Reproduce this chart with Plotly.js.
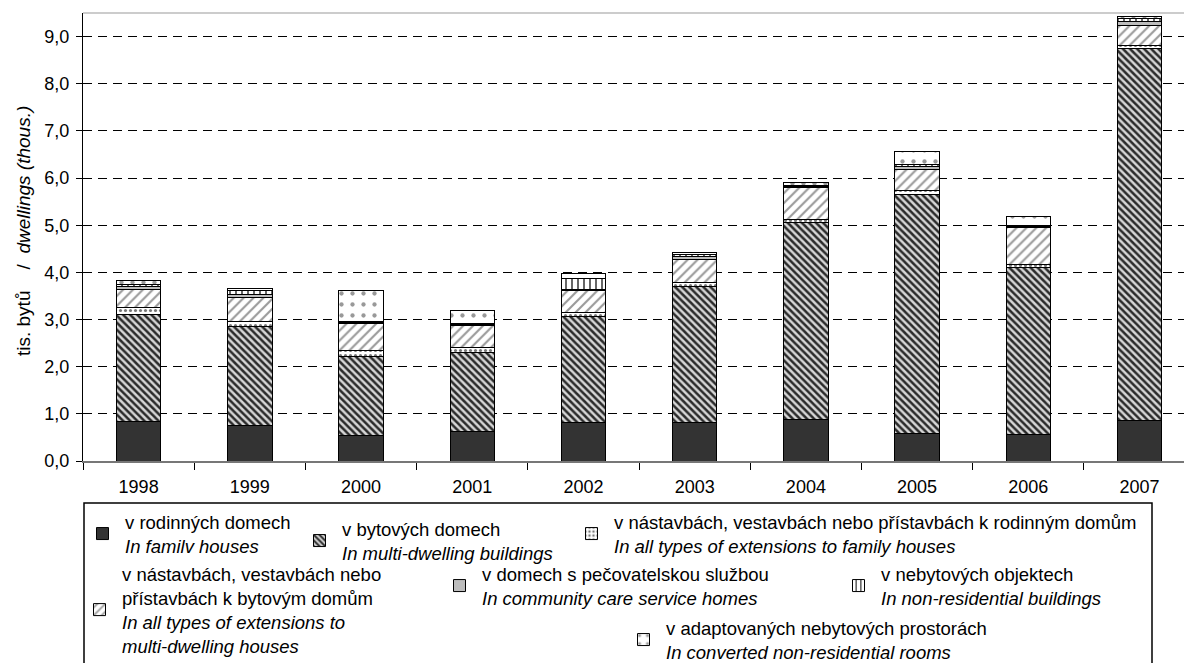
<!DOCTYPE html>
<html><head><meta charset="utf-8">
<script src="https://cdn.plot.ly/plotly-3.0.1.min.js"></script>
<style>html,body{margin:0;padding:0;overflow:hidden;background:#fff}</style>
</head><body>
<div id="chart" style="width:1184px;height:663px"></div>
<script>
// ---- data (thousands of dwellings) ----
const years = ['1998','1999','2000','2001','2002','2003','2004','2005','2006','2007'];
const familyHouses       = [0.83, 0.75, 0.54, 0.62, 0.81, 0.81, 0.89, 0.59, 0.57, 0.85];
const multiDwelling      = [2.28, 2.11, 1.68, 1.69, 2.25, 2.89, 4.17, 5.07, 3.54, 7.89];
const extFamilyHouses    = [0.14, 0.10, 0.12, 0.10, 0.08, 0.09, 0.07, 0.07, 0.06, 0.07];
const extMultiDwelling   = [0.39, 0.50, 0.57, 0.46, 0.47, 0.49, 0.67, 0.46, 0.78, 0.42];
const communityCare      = [0.05, 0.07, 0.02, 0.03, 0.035, 0.06, 0.02, 0.05, 0.03, 0.08];
const nonResidential     = [0.05, 0.08, 0.02, 0.02, 0.225, 0.03, 0.015, 0.04, 0.02, 0.07];
const convertedRooms     = [0.08, 0.04, 0.67, 0.27, 0.11, 0.05, 0.07, 0.28, 0.18, 0.05];
const yTicks = [0,1,2,3,4,5,6,7,8,9];
const yTitle = 'tis. bytů\u00a0\u00a0\u00a0\u00a0/\u00a0\u00a0<i>dwellings (thous.)</i>';

const seriesNames = [
  'v rodinných domech<br><i>In familv houses</i>',
  'v bytových domech<br><i>In multi-dwelling buildings</i>',
  'v nástavbách, vestavbách nebo přístavbách k rodinným domům<br><i>In all types of extensions to family houses</i>',
  'v nástavbách, vestavbách nebo<br>přístavbách k bytovým domům<br><i>In all types of extensions to</i><br><i>multi-dwelling houses</i>',
  'v domech s pečovatelskou službou<br><i>In community care service homes</i>',
  'v nebytových objektech<br><i>In non-residential buildings</i>',
  'v adaptovaných nebytových prostorách<br><i>In converted non-residential rooms</i>'
];

const FONT = 'Arial, "Liberation Sans", sans-serif';
const W = 1184, H = 663;
const outline = {color:'#000', width:1};

const markers = [
  {color:'#333333', line:outline},
  {color:'#d6d6d6', line:outline, pattern:{shape:'\\', fgcolor:'#2b2b2b', bgcolor:'#d6d6d6', size:5, solidity:0.5, fillmode:'replace'}},
  {color:'#ffffff', line:outline, pattern:{shape:'.', fgcolor:'#777', bgcolor:'#ffffff', size:5, solidity:0.3, fillmode:'replace'}},
  {color:'#ffffff', line:outline, pattern:{shape:'/', fgcolor:'#9a9a9a', bgcolor:'#ffffff', size:7, solidity:0.3, fillmode:'replace'}},
  {color:'#bdbdbd', line:outline},
  {color:'#ffffff', line:outline, pattern:{shape:'|', fgcolor:'#000', bgcolor:'#ffffff', size:6, solidity:0.2, fillmode:'replace'}},
  {color:'#ffffff', line:outline, pattern:{shape:'.', fgcolor:'#999', bgcolor:'#ffffff', size:11, solidity:0.12, fillmode:'replace'}}
];
const values = [familyHouses, multiDwelling, extFamilyHouses, extMultiDwelling, communityCare, nonResidential, convertedRooms];
const legendIds = ['legend','legend2','legend3','legend4','legend5','legend6','legend7'];

const data = values.map((v,i)=>({
  type:'bar', x:years, y:v, name:seriesNames[i], marker:markers[i],
  legend:legendIds[i], hoverinfo:'skip'
}));

// legend placement (pixel positions of each legend box's top-left corner)
const legendPos = [
  [80, 503], [297, 510], [569, 503],
  [77, 555], [437, 555], [836, 555],
  [621, 609]
];
const layout = {
  width:W, height:H,
  margin:{l:83, r:0, t:13, b:202, pad:0, autoexpand:false},
  paper_bgcolor:'#fff', plot_bgcolor:'#fff',
  font:{family:FONT, size:18, color:'#000'},
  separators:', ',
  barmode:'stack', bargap:0.6,
  xaxis:{
    type:'category', range:[-0.5, 9.4], showgrid:false, zeroline:false,
    showline:true, linecolor:'#777', linewidth:2,
    ticks:'outside', tickson:'boundaries', ticklen:7, tickcolor:'#000', tickwidth:1,
    ticklabelstandoff:8, tickfont:{family:FONT, size:18, color:'#000'}
  },
  yaxis:{
    range:[0, 9.5], tickvals:yTicks, tickformat:'.1f',
    showline:true, linecolor:'#000', linewidth:1,
    ticks:'outside', ticklen:6, tickcolor:'#000',
    showgrid:true, gridcolor:'#000', gridwidth:1, griddash:'9px,6px',
    zeroline:false, tickfont:{family:FONT, size:18, color:'#000'},
    ticklabelstandoff:3
  },
  annotations:[
    {text:yTitle, xref:'paper', yref:'paper', x:(23-83)/1101, y:(461-231)/448,
     xanchor:'center', yanchor:'middle', textangle:-90, showarrow:false,
     font:{family:FONT, size:19, color:'#000'}}
  ],
  shapes:[
    {type:'line', xref:'paper', yref:'paper', x0:0, x1:1, y0:1, y1:1, line:{color:'#999', width:1}},
    {type:'rect', xref:'paper', yref:'paper',
     x0:(84-83)/1101, x1:(1152-83)/1101, y0:(461-675)/448, y1:(461-503)/448,
     line:{color:'#000', width:1.5}, fillcolor:'rgba(0,0,0,0)', layer:'above'}
  ],
  showlegend:true
};
legendIds.forEach((id,i)=>{
  layout[id] = {
    xref:'container', yref:'container',
    x:legendPos[i][0]/W, y:1-legendPos[i][1]/H, xanchor:'left', yanchor:'top',
    bgcolor:'rgba(0,0,0,0)', borderwidth:0, itemwidth:35,
    font:{family:FONT, size:18.5, color:'#000'}, valign:'middle',
    itemclick:false, itemdoubleclick:false
  };
});

Plotly.newPlot('chart', data, layout, {staticPlot:true, displayModeBar:false});
</script>
</body></html>
